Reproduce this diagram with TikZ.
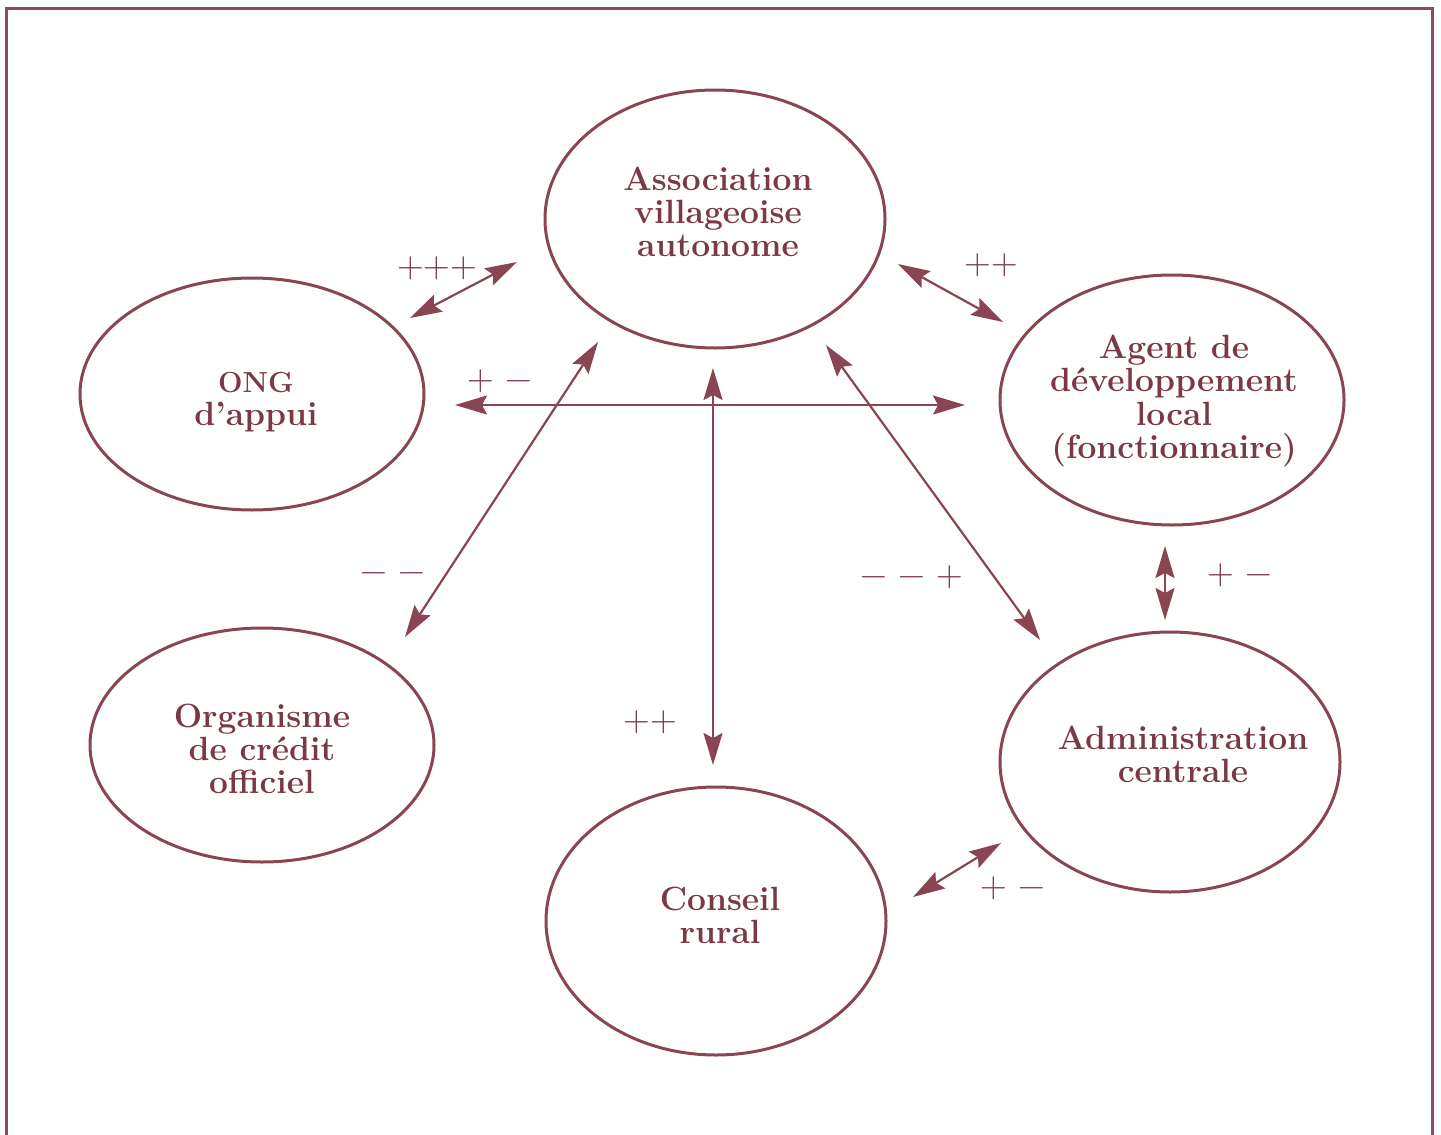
\documentclass[tikz,border=0pt]{standalone}
\usetikzlibrary{shapes.geometric,arrows.meta}
\definecolor{wine}{HTML}{8A4552}
\definecolor{winetext}{HTML}{7B3946}
\definecolor{winefrm}{HTML}{8C4D58}
\begin{document}
\begin{tikzpicture}[x=0.5pt,y=-0.5pt,
  actor/.style={ellipse, draw=wine, line width=1.5pt, inner sep=0pt},
  actortext/.style={text=winetext, align=center, inner sep=0pt,
    font=\fontsize{16.8}{16.6}\selectfont\bfseries},
  rel/.style={draw=wine, line width=1.1pt,
    {Stealth[length=16pt,width=9.5pt,inset=2.5pt]}-{Stealth[length=16pt,width=9.5pt,inset=2.5pt]}},
  sign/.style={text=winetext, inner sep=0pt, font=\fontsize{18.5}{18.5}\selectfont}]
\useasboundingbox (0,0) rectangle (1441,1135);

% outer frame, open at the bottom
\draw[winefrm, line width=1.5pt] (6.5,1135) -- (6.5,8.5) -- (1432.5,8.5) -- (1432.5,1135);

% actors
\node[actor, minimum width=170pt, minimum height=129pt] (assoc) at (715,219) {};
\node[actortext] (assoc-t) at (718,212) {Association\\villageoise\\autonome};

\node[actor, minimum width=172pt, minimum height=116pt] (ong) at (252,394) {};
\node[actortext] (ong-t) at (256,402) {{\fontsize{14.5}{16.6}\selectfont ONG}\\d'appui};

\node[actor, minimum width=172pt, minimum height=125pt] (agent) at (1172,400) {};
\node[actortext] (agent-t) at (1174,401) {Agent de\\développement\\local\\(fonctionnaire)};

\node[actor, minimum width=172pt, minimum height=117pt] (orga) at (262,745) {};
\node[actortext] (orga-t) at (262,749) {Organisme\\de crédit\\officiel};

\node[actor, minimum width=170pt, minimum height=130pt] (admin) at (1170,762) {};
\node[actortext] (admin-t) at (1183,754) {Administration\\centrale};

\node[actor, minimum width=170pt, minimum height=134pt] (conseil) at (716,921) {};
\node[actortext] (conseil-t) at (720,915) {Conseil\\rural};

% connector end points
\coordinate (r1a) at (410,318);  \coordinate (r1b) at (517,262);
\coordinate (r2a) at (898,264);  \coordinate (r2b) at (1003,322);
\coordinate (r3a) at (455,405);  \coordinate (r3b) at (965,405);
\coordinate (r4a) at (598,342);  \coordinate (r4b) at (405,637);
\coordinate (r5a) at (713,368);  \coordinate (r5b) at (713,765);
\coordinate (r6a) at (826,345);  \coordinate (r6b) at (1040,640);
\coordinate (r7a) at (1165,546); \coordinate (r7b) at (1165,620);
\coordinate (r8a) at (913,897);  \coordinate (r8b) at (1001,843);

% relations
\draw[rel] (r1a) -- (r1b);
\draw[rel] (r2a) -- (r2b);
\draw[rel] (r3a) -- (r3b);
\draw[rel] (r4a) -- (r4b);
\draw[rel] (r5a) -- (r5b);
\draw[rel] (r6a) -- (r6b);
\draw[rel] (r7a) -- (r7b);
\draw[rel] (r8a) -- (r8b);

% relation qualities
\node[sign] (s1) at (437,268) {+++};
\node[sign] (s2) at (991,265) {++};
\node[sign] (s3) at (500,381) {+ −};
\node[sign] (s4) at (393,578) {− −};
\node[sign] (s5) at (650,722) {++};
\node[sign] (s6) at (912,577) {− − +};
\node[sign] (s7) at (1240,575) {+ −};
\node[sign] (s8) at (1013,888) {+ −};
\end{tikzpicture}
\end{document}
